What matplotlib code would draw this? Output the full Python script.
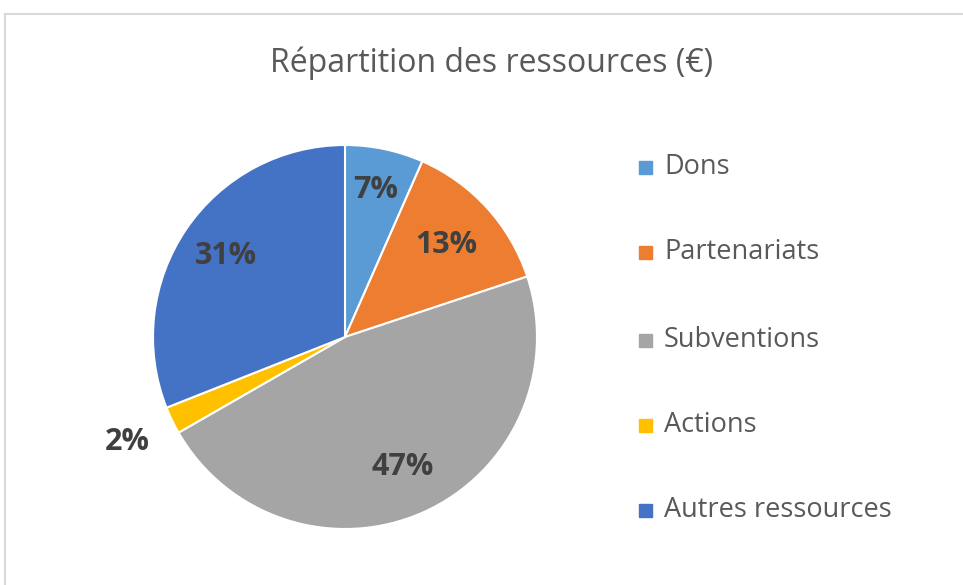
import numpy as np
import matplotlib.pyplot as plt
from matplotlib.patches import Rectangle
from matplotlib.lines import Line2D

categories = ['Dons', 'Partenariats', 'Subventions', 'Actions', 'Autres ressources']
shares = [6.6, 13.3, 46.8, 2.3, 31.0]
pct_labels = ['7%', '13%', '47%', '2%', '31%']
colors = ['#5B9BD5', '#ED7D31', '#A5A5A5', '#FFC000', '#4472C4']
label_radius = [0.78, 0.71, 0.74, 1.26, 0.75]

plt.rcParams['font.family'] = ['Open Sans', 'DejaVu Sans']

W, H = 963, 585
fig = plt.figure(figsize=(W / 100, H / 100), dpi=100)
fig.patch.set_facecolor('white')

# thin chart-area border (top and left only visible)
fig.add_artist(Line2D([5 / W, 5 / W], [0, 1 - 14 / H], color='#d9d9d9', lw=1.5))
fig.add_artist(Line2D([5 / W, 1], [1 - 14 / H, 1 - 14 / H], color='#d9d9d9', lw=1.5))

fig.text(492 / W, 1 - 63 / H, 'Répartition des ressources (€)', ha='center', va='center',
         fontsize=23, color='#595959')

cx, cy, r = 345, 337, 192
ax = fig.add_axes([(cx - r) / W, (H - cy - r) / H, 2 * r / W, 2 * r / H])
wedges, _ = ax.pie(shares, colors=colors, startangle=90, counterclock=False,
                   wedgeprops=dict(edgecolor='white', linewidth=1.5))
ax.set_xlim(-1, 1)
ax.set_ylim(-1, 1)
ax.set_aspect('equal')
ax.axis('off')

for w, lab, rr in zip(wedges, pct_labels, label_radius):
    ang = np.deg2rad((w.theta1 + w.theta2) / 2)
    ax.text(rr * np.cos(ang), rr * np.sin(ang), lab, ha='center', va='center',
            fontsize=22, fontweight='bold', color='#404040', clip_on=False)

# legend
rows = [167, 252, 340, 425, 510]
for y, name, c in zip(rows, categories, colors):
    fig.add_artist(Rectangle((639 / W, 1 - (y + 7) / H), 13 / W, 13 / H,
                             transform=fig.transFigure, color=c))
    fig.text(664 / W, 1 - y / H, name, ha='left', va='center', fontsize=19.5, color='#595959')

fig.savefig('out.png', dpi=100)
